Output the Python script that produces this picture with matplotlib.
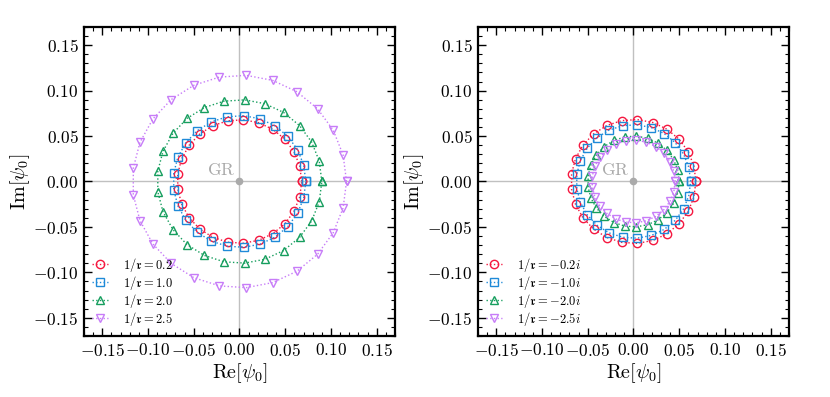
import matplotlib
matplotlib.use("Agg")
import matplotlib.pyplot as plt
from matplotlib.ticker import MultipleLocator, FuncFormatter

plt.rcParams['mathtext.fontset'] = 'cm'
plt.rcParams['font.family'] = 'serif'
plt.rcParams['font.serif'] = ['cmr10', 'DejaVu Serif']
plt.rcParams['axes.unicode_minus'] = False

# ---------------- data ----------------
left_labels = [r'$1/\mathfrak{r}=0.2$', r'$1/\mathfrak{r}=1.0$',
               r'$1/\mathfrak{r}=2.0$', r'$1/\mathfrak{r}=2.5$']
right_labels = [r'$1/\mathfrak{r}=-0.2i$', r'$1/\mathfrak{r}=-1.0i$',
                r'$1/\mathfrak{r}=-2.0i$', r'$1/\mathfrak{r}=-2.5i$']

L_red_x = [0.0680, 0.0659, 0.0596, 0.0496, 0.0364, 0.0210, 0.0043, -0.0127, -0.0290, -0.0433, -0.0550, -0.0632, -0.0675,
           -0.0675, -0.0632, -0.0550, -0.0433, -0.0290, -0.0127, 0.0043, 0.0210, 0.0364, 0.0496, 0.0596, 0.0659, 0.0680]
L_red_y = [0.0000, 0.0169, 0.0328, 0.0466, 0.0574, 0.0647, 0.0679, 0.0668, 0.0615, 0.0524, 0.0400, 0.0250, 0.0085,
           -0.0085, -0.0250, -0.0400, -0.0524, -0.0615, -0.0668, -0.0679, -0.0647, -0.0574, -0.0466, -0.0328, -0.0169, 0.0000]
L_blue_x = [0.0725, 0.0702, 0.0635, 0.0529, 0.0389, 0.0224, 0.0046, -0.0136, -0.0309, -0.0462, -0.0587, -0.0674, -0.0719,
            -0.0719, -0.0674, -0.0587, -0.0462, -0.0309, -0.0136, 0.0046, 0.0224, 0.0389, 0.0529, 0.0635, 0.0702, 0.0725]
L_blue_y = [0.0000, 0.0180, 0.0349, 0.0496, 0.0612, 0.0690, 0.0724, 0.0712, 0.0656, 0.0559, 0.0426, 0.0267, 0.0091,
            -0.0091, -0.0267, -0.0426, -0.0559, -0.0656, -0.0712, -0.0724, -0.0690, -0.0612, -0.0496, -0.0349, -0.0180, 0.0000]
L_green_x = [0.0900, 0.0872, 0.0789, 0.0656, 0.0482, 0.0278, 0.0057, -0.0169, -0.0383, -0.0574, -0.0728, -0.0837, -0.0893,
             -0.0893, -0.0837, -0.0728, -0.0574, -0.0383, -0.0169, 0.0057, 0.0278, 0.0482, 0.0656, 0.0789, 0.0872, 0.0900]
L_green_y = [0.0000, 0.0224, 0.0434, 0.0616, 0.0760, 0.0856, 0.0898, 0.0884, 0.0814, 0.0694, 0.0529, 0.0331, 0.0113,
             -0.0113, -0.0331, -0.0529, -0.0694, -0.0814, -0.0884, -0.0898, -0.0856, -0.0760, -0.0616, -0.0434, -0.0224, 0.0000]
L_purple_x = [0.1170, 0.1133, 0.1025, 0.0853, 0.0627, 0.0362, 0.0073, -0.0219, -0.0498, -0.0746, -0.0947, -0.1088, -0.1161,
              -0.1161, -0.1088, -0.0947, -0.0746, -0.0498, -0.0219, 0.0073, 0.0362, 0.0627, 0.0853, 0.1025, 0.1133, 0.1170]
L_purple_y = [0.0000, 0.0291, 0.0564, 0.0801, 0.0988, 0.1113, 0.1168, 0.1149, 0.1059, 0.0902, 0.0688, 0.0431, 0.0147,
              -0.0147, -0.0431, -0.0688, -0.0902, -0.1059, -0.1149, -0.1168, -0.1113, -0.0988, -0.0801, -0.0564, -0.0291, 0.0000]

R_red_x = [0.0682, 0.0661, 0.0598, 0.0497, 0.0365, 0.0211, 0.0043, -0.0128, -0.0290, -0.0435, -0.0552, -0.0634, -0.0677,
           -0.0677, -0.0634, -0.0552, -0.0435, -0.0290, -0.0128, 0.0043, 0.0211, 0.0365, 0.0497, 0.0598, 0.0661, 0.0682]
R_red_y = [0.0000, 0.0170, 0.0329, 0.0467, 0.0576, 0.0649, 0.0681, 0.0670, 0.0617, 0.0525, 0.0401, 0.0251, 0.0085,
           -0.0085, -0.0251, -0.0401, -0.0525, -0.0617, -0.0670, -0.0681, -0.0649, -0.0576, -0.0467, -0.0329, -0.0170, 0.0000]
R_blue_x = [0.0625, 0.0605, 0.0548, 0.0456, 0.0335, 0.0193, 0.0039, -0.0117, -0.0266, -0.0398, -0.0506, -0.0581, -0.0620,
            -0.0620, -0.0581, -0.0506, -0.0398, -0.0266, -0.0117, 0.0039, 0.0193, 0.0335, 0.0456, 0.0548, 0.0605, 0.0625]
R_blue_y = [0.0000, 0.0155, 0.0301, 0.0428, 0.0528, 0.0594, 0.0624, 0.0614, 0.0566, 0.0482, 0.0367, 0.0230, 0.0078,
            -0.0078, -0.0230, -0.0367, -0.0482, -0.0566, -0.0614, -0.0624, -0.0594, -0.0528, -0.0428, -0.0301, -0.0155, 0.0000]
R_green_x = [0.0500, 0.0484, 0.0438, 0.0365, 0.0268, 0.0155, 0.0031, -0.0094, -0.0213, -0.0319, -0.0405, -0.0465, -0.0496,
             -0.0496, -0.0465, -0.0405, -0.0319, -0.0213, -0.0094, 0.0031, 0.0155, 0.0268, 0.0365, 0.0438, 0.0484, 0.0500]
R_green_y = [0.0000, 0.0124, 0.0241, 0.0342, 0.0422, 0.0476, 0.0499, 0.0491, 0.0452, 0.0385, 0.0294, 0.0184, 0.0063,
             -0.0063, -0.0184, -0.0294, -0.0385, -0.0452, -0.0491, -0.0499, -0.0476, -0.0422, -0.0342, -0.0241, -0.0124, 0.0000]
R_purple_x = [0.0455, 0.0441, 0.0399, 0.0332, 0.0244, 0.0141, 0.0029, -0.0085, -0.0194, -0.0290, -0.0368, -0.0423, -0.0451,
              -0.0451, -0.0423, -0.0368, -0.0290, -0.0194, -0.0085, 0.0029, 0.0141, 0.0244, 0.0332, 0.0399, 0.0441, 0.0455]
R_purple_y = [0.0000, 0.0113, 0.0219, 0.0311, 0.0384, 0.0433, 0.0454, 0.0447, 0.0412, 0.0351, 0.0267, 0.0168, 0.0057,
              -0.0057, -0.0168, -0.0267, -0.0351, -0.0412, -0.0447, -0.0454, -0.0433, -0.0384, -0.0311, -0.0219, -0.0113, 0.0000]

ticks = [-0.15, -0.10, -0.05, 0.00, 0.05, 0.10, 0.15]

colors = ['#f5173f', '#1f8ad8', '#169e5e', '#c77cf8']
markers = ['o', 's', '^', 'v']

left_series = [(L_red_x, L_red_y), (L_blue_x, L_blue_y), (L_green_x, L_green_y), (L_purple_x, L_purple_y)]
right_series = [(R_red_x, R_red_y), (R_blue_x, R_blue_y), (R_green_x, R_green_y), (R_purple_x, R_purple_y)]

fig = plt.figure(figsize=(8.3, 3.97), dpi=100)
ax1 = fig.add_axes([0.1012, 0.1537, 0.3747, 0.7783])
ax2 = fig.add_axes([0.5759, 0.1537, 0.3747, 0.7783])

fmt = FuncFormatter(lambda v, p: r'$%.2f$' % v if abs(v) > 1e-9 else r'$0.00$')

for ax, series, labels in [(ax1, left_series, left_labels), (ax2, right_series, right_labels)]:
    ax.axhline(0, color='#c0c0c0', lw=1.0, zorder=0)
    ax.axvline(0, color='#c0c0c0', lw=1.0, zorder=0)
    ax.plot([0], [0], 'o', color='#aaaaaa', ms=4.5, zorder=1)
    ax.text(-0.004, 0.0035, r'$\mathrm{GR}$', color='#aaaaaa', fontsize=12.5, ha='right', va='bottom')
    for (xs, ys), c, m, lab in zip(series, colors, markers, labels):
        ax.plot(xs, ys, linestyle=':', lw=1.0, color=c, marker=m, ms=6,
                mfc='none', mec=c, mew=1.0, label=lab, zorder=3)
    ax.set_xlim(-0.17, 0.17)
    ax.set_ylim(-0.17, 0.17)
    ax.set_xticks(ticks)
    ax.set_yticks(ticks)
    ax.xaxis.set_major_formatter(fmt)
    ax.yaxis.set_major_formatter(fmt)
    ax.xaxis.set_minor_locator(MultipleLocator(0.01))
    ax.yaxis.set_minor_locator(MultipleLocator(0.01))
    ax.tick_params(which='both', direction='in', top=True, right=True, labelsize=12.5)
    ax.tick_params(which='major', length=6, width=1.0, pad=4)
    ax.tick_params(which='minor', length=3, width=0.8)
    for s in ax.spines.values():
        s.set_linewidth(1.6)
    ax.set_xlabel(r'$\mathrm{Re}[\psi_0]$', fontsize=14.5, labelpad=2)
    ax.set_ylabel(r'$\mathrm{Im}[\psi_0]$', fontsize=14.5, labelpad=1)
    ax.legend(loc='lower left', frameon=False, fontsize=9, handlelength=1.3,
              handletextpad=1.2, labelspacing=0.0, borderaxespad=0.35, borderpad=0.3,
              markerscale=1.0)

fig.savefig('out.png', dpi=100)
